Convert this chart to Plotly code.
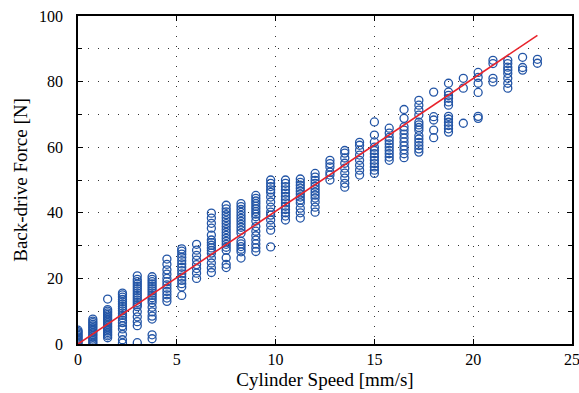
import plotly.graph_objects as go

# Column speeds [mm/s] and measured back-drive forces [N] per column
speeds = [0, 0.75, 1.5, 2.25, 3, 3.75, 4.5, 5.25, 6, 6.75, 7.5, 8.25, 9, 9.75,
          10.5, 11.25, 12, 12.75, 13.5, 14.25, 15, 15.75, 16.5, 17.25, 18,
          18.75, 19.5, 20.25, 21, 21.75, 22.5, 23.25]

forces = [
    [0.2, 0.6, 1.0, 1.4, 1.8, 2.2, 2.6, 3.0, 3.4, 3.8, 4.2],
    [0.0, 0.5, 1.0, 1.5, 2.0, 2.5, 3.0, 3.5, 4.0, 4.5, 5.0, 5.5, 6.0, 6.5, 7.0, 7.6],
    [1.9, 2.5, 3.0, 3.5, 4.0, 4.5, 5.0, 5.5, 6.0, 6.5, 7.0, 7.5, 8.0, 8.5, 9.0, 9.5, 10.0, 10.5, 13.7],
    [0.3, 1.3, 2.9, 4.6, 5.5, 6.5, 7.2, 8.0, 8.7, 9.4, 10.1, 10.8, 11.5, 12.2, 12.9, 13.6, 14.3, 15.0, 15.5],
    [0.4, 5.6, 6.8, 8.3, 9.8, 11.4, 12.0, 12.7, 13.4, 14.1, 14.8, 15.5, 16.2, 16.9, 17.6, 18.3, 19.0, 19.7, 20.8],
    [1.6, 2.8, 7.6, 8.5, 9.8, 11.2, 12.6, 13.4, 14.1, 14.8, 15.5, 16.2, 16.9, 17.6, 18.3, 19.0, 19.7, 20.5],
    [13.0, 14.0, 15.0, 16.0, 17.0, 18.0, 19.0, 20.0, 21.3, 22.6, 24.3, 25.9],
    [14.8, 17.4, 18.4, 19.4, 20.4, 21.4, 22.4, 23.4, 24.4, 25.4, 26.4, 27.4, 28.3, 29.0],
    [20.0, 21.6, 23.0, 24.2, 25.6, 27.0, 28.6, 30.4],
    [21.8, 23.2, 24.7, 26.2, 27.7, 28.5, 29.3, 30.1, 30.9, 31.7, 33.2, 35.3, 36.8, 38.4, 39.9],
    [23.3, 24.3, 26.3, 28.6, 29.5, 30.4, 31.3, 32.2, 33.1, 34.0, 34.9, 35.8, 36.7, 37.6, 38.5, 39.4, 40.3, 41.2, 42.3],
    [26.2, 28.1, 28.9, 29.7, 30.5, 31.3, 33.8, 34.7, 35.6, 36.5, 37.4, 38.3, 39.2, 40.1, 41.0, 41.9, 42.8],
    [28.2, 29.3, 30.5, 31.7, 33.0, 34.4, 35.8, 37.5, 38.8, 39.6, 40.4, 41.2, 42.0, 42.8, 43.6, 44.4, 45.3],
    [29.6, 34.7, 36.2, 37.8, 39.3, 40.2, 41.7, 43.3, 44.8, 46.2, 47.0, 48.0, 49.0, 50.0],
    [37.8, 39.0, 40.0, 41.0, 42.0, 43.0, 44.0, 45.0, 46.0, 47.0, 48.0, 49.0, 50.0],
    [38.4, 40.0, 41.4, 43.0, 43.9, 44.8, 45.7, 46.6, 47.5, 48.4, 49.3, 50.3],
    [40.2, 41.7, 43.3, 44.5, 45.4, 46.3, 47.2, 48.1, 49.0, 49.9, 50.9, 52.0],
    [50.0, 51.5, 52.4, 54.0, 55.0, 56.0],
    [47.8, 49.0, 50.6, 52.1, 53.6, 55.1, 56.7, 58.2, 59.0],
    [51.5, 53.0, 54.5, 56.0, 57.6, 59.1, 60.6, 61.5],
    [52.0, 53.0, 54.0, 55.0, 56.0, 57.0, 58.0, 59.0, 60.0, 61.6, 63.7, 67.7],
    [56.0, 57.0, 58.0, 59.0, 60.0, 61.0, 62.0, 63.0, 64.3, 65.8],
    [56.8, 58.0, 59.2, 60.4, 61.6, 62.8, 64.0, 65.2, 66.2, 68.8, 71.5],
    [58.5, 59.5, 60.5, 61.5, 62.5, 63.5, 65.2, 66.0, 66.8, 67.6, 69.8, 71.3, 72.8, 74.3],
    [62.9, 65.2, 68.3, 69.3, 76.8],
    [64.6, 65.6, 66.6, 67.6, 68.6, 69.4, 72.8, 73.8, 74.9, 75.8, 76.8, 79.5],
    [67.3, 78.0, 81.0],
    [68.8, 69.4, 76.7, 79.5, 81.3, 82.8],
    [79.9, 81.0, 85.5, 86.5],
    [78.0, 79.5, 81.0, 82.5, 83.5, 84.4, 85.5, 86.5],
    [83.5, 84.3, 87.4],
    [85.6, 86.8],
]

# Linear fit line
fit_x = [0, 23.25]
fit_y = [0, 94.1]

x_ticks = [0, 5, 10, 15, 20, 25]
y_ticks = [0, 20, 40, 60, 80, 100]

xs, ys = [], []
for s, vals in zip(speeds, forces):
    for v in vals:
        xs.append(s)
        ys.append(v)

fig = go.Figure()
fig.add_trace(go.Scatter(
    x=xs, y=ys, mode="markers",
    marker=dict(symbol="circle-open", size=8, color="#2355a6",
                line=dict(width=1.3, color="#2355a6")),
    showlegend=False, cliponaxis=True))
fig.add_trace(go.Scatter(
    x=fit_x, y=fit_y, mode="lines",
    line=dict(color="#e8232b", width=1.6), showlegend=False))

font_family = "Liberation Serif, Times New Roman, serif"
grid_dash = "1px,9px"

fig.update_layout(
    width=579, height=393,
    margin=dict(l=78, r=7, t=16, b=49),
    paper_bgcolor="white", plot_bgcolor="white",
    font=dict(family=font_family, size=16, color="black"),
    xaxis=dict(
        range=[0, 25], tickvals=x_ticks, ticktext=[str(v) for v in x_ticks],
        showgrid=True, gridcolor="#333333", gridwidth=1, griddash=grid_dash,
        ticks="inside", ticklen=5, tickwidth=1, tickcolor="black",
        showline=True, linecolor="black", linewidth=1.5, mirror="ticks",
        zeroline=False, automargin=False, ticklabeloverflow="allow",
        title=dict(text="Cylinder Speed [mm/s]", font=dict(size=19), standoff=6),
        tickfont=dict(size=16),
    ),
    yaxis=dict(
        range=[0, 100], tickvals=y_ticks, ticktext=[str(v) for v in y_ticks],
        showgrid=True, gridcolor="#333333", gridwidth=1, griddash=grid_dash,
        minor=dict(dtick=10, tick0=0, showgrid=True, gridcolor="#333333",
                   griddash=grid_dash, ticks="inside", ticklen=4, tickcolor="black"),
        ticks="inside", ticklen=5, tickwidth=1, tickcolor="black",
        showline=True, linecolor="black", linewidth=1.5, mirror="ticks",
        zeroline=False, automargin=False, ticklabelstandoff=10,
        ticklabeloverflow="allow",
        title=dict(text="Back-drive Force [N]", font=dict(size=19), standoff=6),
        tickfont=dict(size=16),
    ),
)

fig.write_html("out.html")
